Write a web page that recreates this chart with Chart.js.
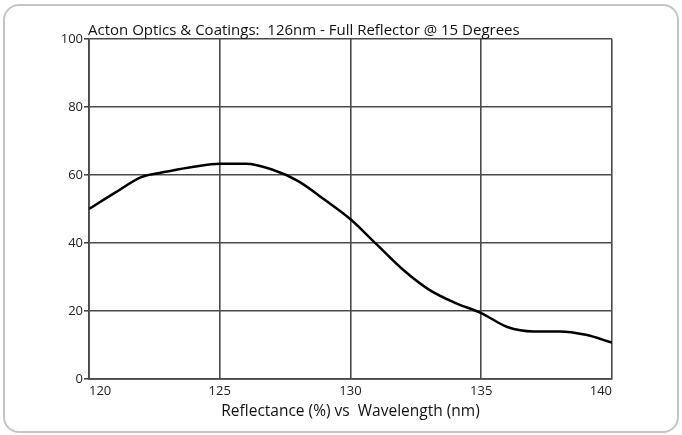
<!DOCTYPE html>
<html>
<head>
<meta charset="utf-8">
<script src="https://cdn.jsdelivr.net/npm/chart.js@4"></script>
<style>
  html, body { margin: 0; padding: 0; background: #fff; }
  #wrap { position: relative; width: 682px; height: 435px; overflow: hidden; }
  #frame {
    position: absolute; left: 3px; top: 4px; width: 672px; height: 425px;
    border: 2px solid #c4c4c4; border-radius: 16px;
  }
  canvas { position: absolute; left: 0; top: 0; }
</style>
</head>
<body>
<div id="wrap">
  <div id="frame"></div>
  <canvas id="reflChart" width="682" height="435"></canvas>
</div>
<script>
const chartTitle = 'Acton Optics & Coatings:  126nm - Full Reflector @ 15 Degrees';
const axisTitle = 'Reflectance (%) vs  Wavelength (nm)';

// wavelength (nm) and reflectance (%)
const wavelengths = [120, 121, 122, 123, 124, 125, 126, 127, 128, 129, 130, 131, 132, 133, 134, 135, 136, 137, 138, 139, 140];
const reflectance = [50.0, 54.8, 59.4, 61.0, 62.4, 63.3, 63.3, 61.6, 58.2, 52.8, 47.0, 39.6, 32.2, 26.3, 22.4, 19.4, 15.3, 14.0, 14.0, 13.0, 10.7];

const xTicks = [120, 125, 130, 135, 140];
const yTicks = [0, 20, 40, 60, 80, 100];

const font = "'Open Sans', 'Noto Sans', sans-serif";

const titlePlugin = {
    id: 'leftTitle',
    afterDraw(chart) {
        const ctx = chart.ctx;
        ctx.save();
        ctx.fillStyle = '#111';
        ctx.font = '15px ' + font;
        ctx.textBaseline = 'alphabetic';
        ctx.textAlign = 'left';
        ctx.fillText(chartTitle, 88, 35);
        ctx.restore();
    }
};

const ctx = document.getElementById('reflChart').getContext('2d');
new Chart(ctx, {
    type: 'line',
    data: {
        datasets: [{
            data: wavelengths.map((w, i) => ({ x: w, y: reflectance[i] })),
            borderColor: '#000',
            borderWidth: 2.5,
            pointRadius: 0,
            tension: 0.35,
            cubicInterpolationMode: 'monotone',
            fill: false
        }]
    },
    options: {
        responsive: false,
        animation: false,
        layout: { padding: { left: 0, top: 39, right: 70, bottom: 0 } },
        plugins: {
            legend: { display: false },
            tooltip: { enabled: false }
        },
        scales: {
            x: {
                type: 'linear',
                min: 120,
                max: 140,
                afterFit: s => { s.height = 56; },
                afterBuildTicks: s => { s.ticks = xTicks.map(v => ({ value: v })); },
                border: { color: '#4a4a4a', width: 1.8 },
                grid: { color: '#4a4a4a', lineWidth: 1.6, drawTicks: false },
                ticks: {
                    align: 'inner',
                    color: '#222',
                    padding: 4,
                    font: { family: font, size: 13 }
                },
                title: {
                    display: true,
                    text: axisTitle,
                    color: '#111',
                    padding: { top: 0, bottom: 14 },
                    font: { family: font, size: 15.5 }
                }
            },
            y: {
                min: 0,
                max: 100,
                afterFit: s => { s.width = 89; },
                afterBuildTicks: s => { s.ticks = yTicks.map(v => ({ value: v })); },
                border: { color: '#4a4a4a', width: 1.8 },
                grid: { color: '#4a4a4a', lineWidth: 1.6, tickLength: 5 },
                ticks: {
                    color: '#222',
                    padding: 1,
                    font: { family: font, size: 13 }
                }
            }
        }
    },
    plugins: [titlePlugin]
});
</script>
</body>
</html>
